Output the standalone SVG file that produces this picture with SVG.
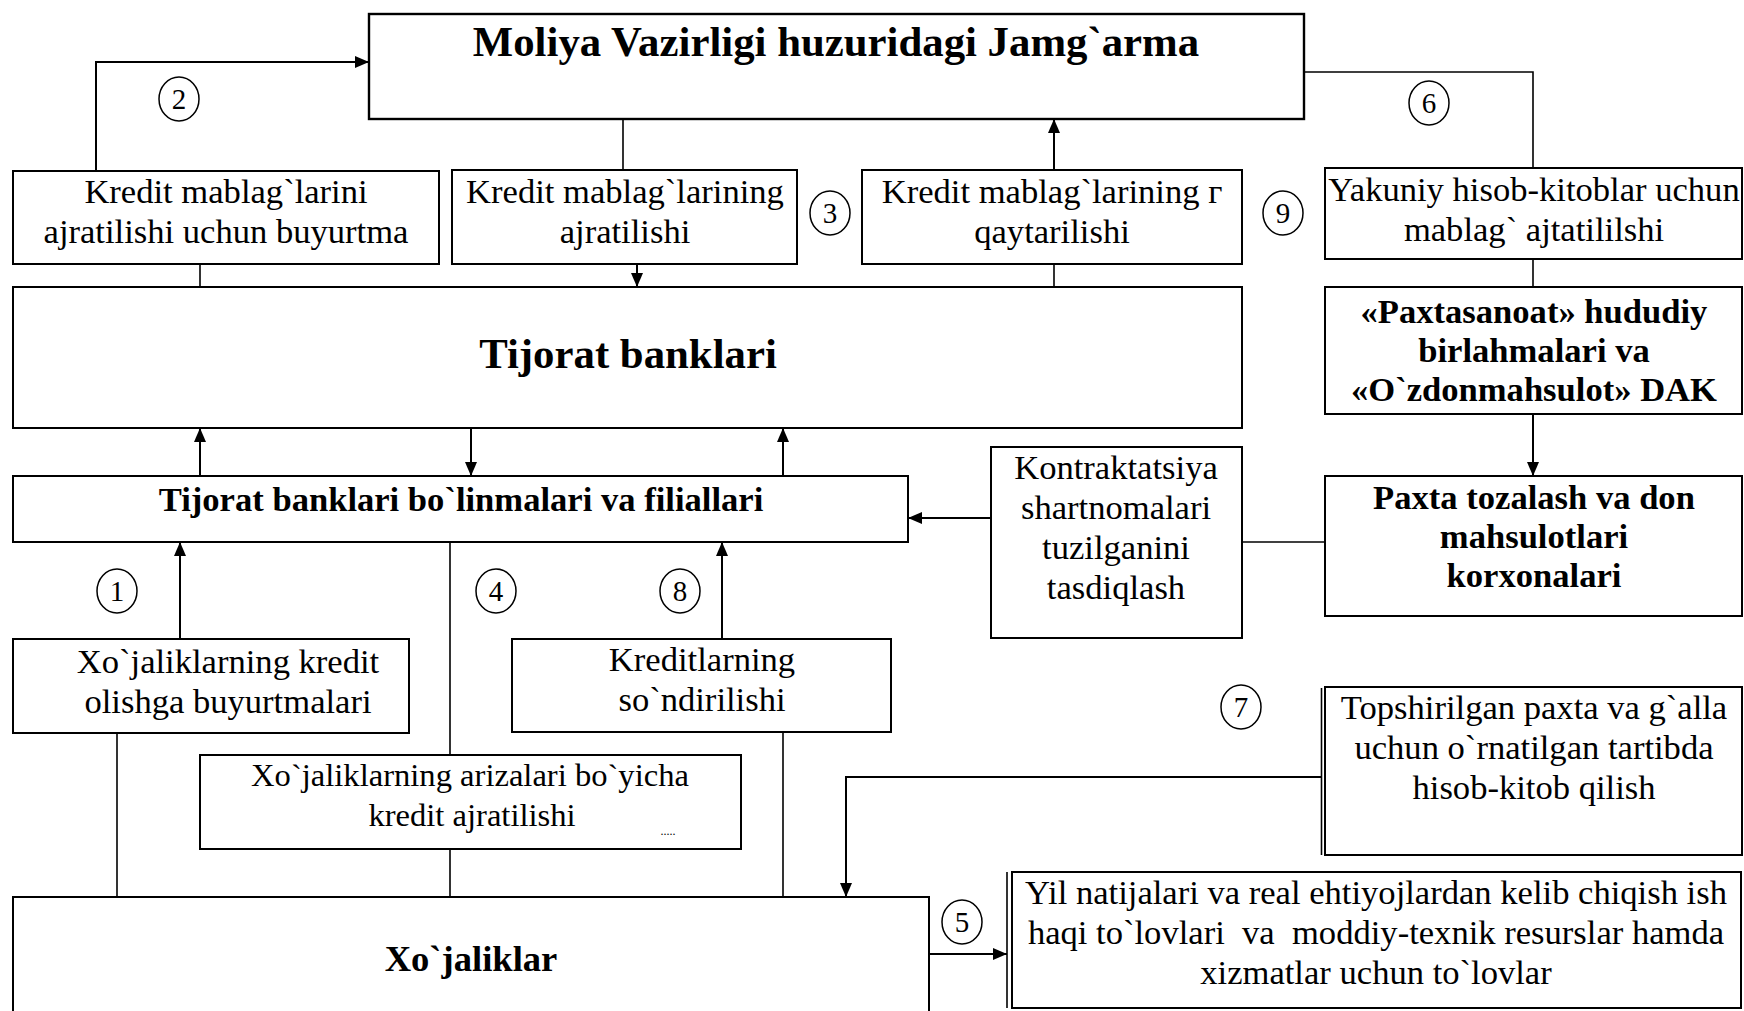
<svg xmlns="http://www.w3.org/2000/svg" width="1744" height="1011" viewBox="0 0 1744 1011">
<style>
.box{fill:#fff;stroke:#000;stroke-width:2}
.t{font-family:"Liberation Serif","Times New Roman",serif;font-size:34.6px;text-anchor:middle;fill:#000}
.b{font-weight:bold}
.ln{stroke:#000;stroke-width:1.6;fill:none}
.ar{stroke:#000;stroke-width:2;fill:none;marker-end:url(#ah)}
.c{fill:#fff;stroke:#000;stroke-width:1.5}
.n{font-size:29px}
</style>
<defs>
<marker id="ah" markerUnits="userSpaceOnUse" viewBox="0 0 14 12" refX="14" refY="6" markerWidth="14" markerHeight="12" orient="auto">
<path d="M0,0 L14,6 L0,12 z" fill="#000"/>
</marker>
</defs>
<rect width="1744" height="1011" fill="#fff"/>
<g id="connectors">
<path class="ar" d="M96,171 V62 H369"/>
<path class="ln" d="M623,119 V170"/>
<path class="ar" d="M637,264 V287"/>
<path class="ln" d="M200,264 V287"/>
<path class="ar" d="M1054,170 V119"/>
<path class="ln" d="M1054,264 V287"/>
<path class="ln" d="M1304,72 H1533 V168"/>
<path class="ln" d="M1533,259 V287"/>
<path class="ar" d="M1533,414 V476"/>
<path class="ln" d="M1242,542 H1325"/>
<path class="ar" d="M991,518 H908"/>
<path class="ar" d="M200,476 V428"/>
<path class="ar" d="M471,428 V476"/>
<path class="ar" d="M783,476 V428"/>
<path class="ar" d="M180,639 V542"/>
<path class="ln" d="M450,542 V755"/>
<path class="ar" d="M722,639 V542"/>
<path class="ln" d="M117,733 V897"/>
<path class="ln" d="M450,849 V897"/>
<path class="ln" d="M783,730 V897"/>
<path class="ar" d="M1322,777 H846 V897"/>
<path class="ar" d="M929,954 H1007"/>
</g>
<g id="n-moliya"><rect class="box" x="369" y="14" width="935" height="105" style="stroke-width:2.4"/><text class="t b" x="836" y="56" style="font-size:42.8px">Moliya Vazirligi huzuridagi Jamg`arma</text></g>
<g id="n-k1"><rect class="box" x="13" y="171" width="426" height="93"/><text class="t" x="226" y="203">Kredit mablag`larini</text><text class="t" x="226" y="243">ajratilishi uchun buyurtma</text></g>
<g id="n-k2"><rect class="box" x="452" y="170" width="345" height="94"/><text class="t" x="625" y="203">Kredit mablag`larining</text><text class="t" x="625" y="243">ajratilishi</text></g>
<g id="n-k3"><rect class="box" x="862" y="170" width="380" height="94"/><text class="t" x="1052" y="203">Kredit mablag`larining г</text><text class="t" x="1052" y="243">qaytarilishi</text></g>
<g id="n-yakuniy"><rect class="box" x="1325" y="168" width="417" height="91"/><text class="t" x="1534" y="201">Yakuniy hisob-kitoblar uchun</text><text class="t" x="1534" y="241">mablag` ajtatililshi</text></g>
<g id="n-tijorat"><rect class="box" x="13" y="287" width="1229" height="141"/><text class="t b" x="628" y="368" style="font-size:42.8px">Tijorat banklari</text></g>
<g id="n-paxtasanoat"><rect class="box" x="1325" y="287" width="417" height="127"/><text class="t b" x="1534" y="323">«Paxtasanoat» hududiy</text><text class="t b" x="1534" y="362">birlahmalari va</text><text class="t b" x="1534" y="401">«O`zdonmahsulot» DAK</text></g>
<g id="n-bolinma"><rect class="box" x="13" y="476" width="895" height="66"/><text class="t b" x="461" y="511">Tijorat banklari bo`linmalari va filiallari</text></g>
<g id="n-kontrakt"><rect class="box" x="991" y="447" width="251" height="191"/><text class="t" x="1116" y="479">Kontraktatsiya</text><text class="t" x="1116" y="519">shartnomalari</text><text class="t" x="1116" y="559">tuzilganini</text><text class="t" x="1116" y="599">tasdiqlash</text></g>
<g id="n-paxta"><rect class="box" x="1325" y="476" width="417" height="140"/><text class="t b" x="1534" y="509">Paxta tozalash va don</text><text class="t b" x="1534" y="548">mahsulotlari</text><text class="t b" x="1534" y="587">korxonalari</text></g>
<g id="n-xkredit"><rect class="box" x="13" y="639" width="396" height="94"/><text class="t" x="228" y="673">Xo`jaliklarning kredit</text><text class="t" x="228" y="713">olishga buyurtmalari</text></g>
<g id="n-kreditlar"><rect class="box" x="512" y="639" width="379" height="93"/><text class="t" x="702" y="671">Kreditlarning</text><text class="t" x="702" y="711">so`ndirilishi</text></g>
<g id="n-ariza"><rect class="box" x="200" y="755" width="541" height="94"/><text class="t" x="470" y="786" style="font-size:32.6px">Xo`jaliklarning arizalari bo`yicha</text><text class="t" x="472" y="826" style="font-size:32.6px">kredit ajratilishi</text><text class="t" x="668" y="835" style="font-size:12px">.....</text></g>
<g id="n-topshir"><rect class="box" x="1325" y="687" width="417" height="168"/><path class="ln" d="M1321.5,688 V855"/><text class="t" x="1534" y="719">Topshirilgan paxta va g`alla</text><text class="t" x="1534" y="759">uchun o`rnatilgan tartibda</text><text class="t" x="1534" y="799">hisob-kitob qilish</text></g>
<g id="n-xojalik"><rect class="box" x="13" y="897" width="916" height="140"/><text class="t b" x="471" y="971" style="font-size:36.6px">Xo`jaliklar</text></g>
<g id="n-yil"><rect class="box" x="1012" y="872" width="729" height="136"/><path class="ln" d="M1007,872 V1008"/><text class="t" x="1376" y="904">Yil natijalari va real ehtiyojlardan kelib chiqish ish</text><text class="t" x="1376" y="944" xml:space="preserve">haqi to`lovlari  va  moddiy-texnik resurslar hamda</text><text class="t" x="1376" y="984">xizmatlar uchun to`lovlar</text></g>
<g id="labels">
<ellipse class="c" cx="117" cy="591" rx="20" ry="22"/><text class="t n" x="117" y="601">1</text>
<ellipse class="c" cx="179" cy="99" rx="20" ry="22"/><text class="t n" x="179" y="109">2</text>
<ellipse class="c" cx="830" cy="213" rx="20" ry="22"/><text class="t n" x="830" y="223">3</text>
<ellipse class="c" cx="496" cy="591" rx="20" ry="22"/><text class="t n" x="496" y="601">4</text>
<ellipse class="c" cx="962" cy="922" rx="20" ry="22"/><text class="t n" x="962" y="932">5</text>
<ellipse class="c" cx="1429" cy="103" rx="20" ry="22"/><text class="t n" x="1429" y="113">6</text>
<ellipse class="c" cx="1241" cy="707" rx="20" ry="22"/><text class="t n" x="1241" y="717">7</text>
<ellipse class="c" cx="680" cy="591" rx="20" ry="22"/><text class="t n" x="680" y="601">8</text>
<ellipse class="c" cx="1283" cy="213" rx="20" ry="22"/><text class="t n" x="1283" y="223">9</text>
</g>
</svg>
